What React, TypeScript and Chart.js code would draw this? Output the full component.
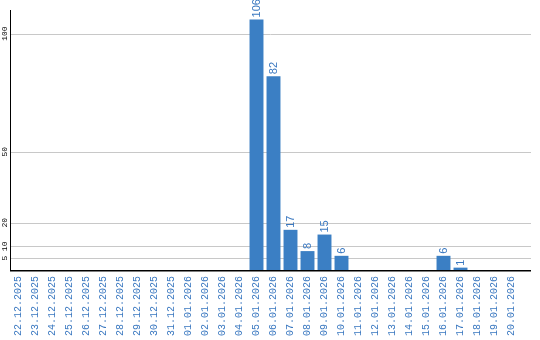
import React, { useEffect, useRef } from "react";
import { Chart, registerables } from "chart.js";

Chart.register(...registerables);

const categories: string[] = [
  "22.12.2025", "23.12.2025", "24.12.2025", "25.12.2025", "26.12.2025",
  "27.12.2025", "28.12.2025", "29.12.2025", "30.12.2025", "31.12.2025",
  "01.01.2026", "02.01.2026", "03.01.2026", "04.01.2026", "05.01.2026",
  "06.01.2026", "07.01.2026", "08.01.2026", "09.01.2026", "10.01.2026",
  "11.01.2026", "12.01.2026", "13.01.2026", "14.01.2026", "15.01.2026",
  "16.01.2026", "17.01.2026", "18.01.2026", "19.01.2026", "20.01.2026",
];

const counts: number[] = [
  0, 0, 0, 0, 0, 0, 0, 0, 0, 0,
  0, 0, 0, 0, 106, 82, 17, 8, 15, 6,
  0, 0, 0, 0, 0, 6, 1, 0, 0, 0,
];

const yTickValues: number[] = [5, 10, 20, 50, 100];

const BAR_COLOR = "#3b7fc4";
const TEXT_BLUE = "#3a78c0";

const decorPlugin = {
  id: "decor",
  beforeDatasetsDraw(chart: any) {
    const { ctx, chartArea } = chart;
    const y = chart.scales.y;
    const extRight = chartArea.right + 11;
    ctx.save();
    ctx.strokeStyle = "#c8c8c8";
    ctx.lineWidth = 1;
    yTickValues.forEach((v) => {
      const py = Math.round(y.getPixelForValue(v)) + 0.5;
      ctx.beginPath();
      ctx.moveTo(chartArea.left, py);
      ctx.lineTo(extRight, py);
      ctx.stroke();
    });
    // y tick labels, rotated
    ctx.fillStyle = "#000";
    ctx.font = "8px 'Liberation Mono', monospace";
    ctx.textAlign = "center";
    ctx.textBaseline = "middle";
    yTickValues.forEach((v) => {
      const py = y.getPixelForValue(v);
      ctx.save();
      ctx.translate(4.5, py);
      ctx.rotate(-Math.PI / 2);
      ctx.fillText(String(v), 0, 0);
      ctx.restore();
    });
    ctx.restore();
  },
  afterDatasetsDraw(chart: any) {
    const { ctx, chartArea } = chart;
    const extRight = chartArea.right + 11;
    ctx.save();
    ctx.fillStyle = "#000";
    ctx.fillRect(chartArea.left, chartArea.top, 1, chartArea.bottom - chartArea.top);
    ctx.fillRect(chartArea.left, chartArea.bottom, extRight - chartArea.left, 1.5);
    // value labels
    const meta = chart.getDatasetMeta(0);
    ctx.fillStyle = TEXT_BLUE;
    ctx.font = "11px 'Liberation Sans', Arial, sans-serif";
    ctx.textAlign = "left";
    ctx.textBaseline = "middle";
    meta.data.forEach((bar: any, i: number) => {
      const v = counts[i];
      if (!v) return;
      ctx.save();
      ctx.translate(bar.x, bar.y - 2);
      ctx.rotate(-Math.PI / 2);
      ctx.fillText(String(v), 0, 0);
      ctx.restore();
    });
    ctx.restore();
  },
};

export default function App() {
  const canvasRef = useRef<HTMLCanvasElement | null>(null);

  useEffect(() => {
    if (!canvasRef.current) return;
    const chart = new Chart(canvasRef.current, {
      type: "bar",
      data: {
        labels: categories,
        datasets: [
          {
            data: counts,
            backgroundColor: BAR_COLOR,
            borderWidth: 0,
            categoryPercentage: 1,
            barPercentage: 0.82,
          },
        ],
      },
      options: {
        responsive: false,
        animation: false,
        devicePixelRatio: 1,
        layout: { padding: { left: 10, top: 10, right: 20, bottom: 0 } },
        plugins: { legend: { display: false }, tooltip: { enabled: false } },
        scales: {
          x: {
            grid: { display: false, drawTicks: false },
            border: { display: false },
            afterFit: (scale: any) => {
              scale.height = 70;
            },
            ticks: {
              autoSkip: false,
              minRotation: 90,
              maxRotation: 90,
              padding: 6,
              color: TEXT_BLUE,
              font: { family: "'Liberation Mono', monospace", size: 10 },
            },
          },
          y: {
            display: false,
            min: 0,
            max: 110,
          },
        },
      },
      plugins: [decorPlugin],
    });
    return () => chart.destroy();
  }, []);

  return (
    <div style={{ position: "absolute", left: 0, top: 0, width: 540, height: 340, background: "#fff" }}>
      <canvas ref={canvasRef} width={540} height={340} style={{ display: "block" }} />
    </div>
  );
}
